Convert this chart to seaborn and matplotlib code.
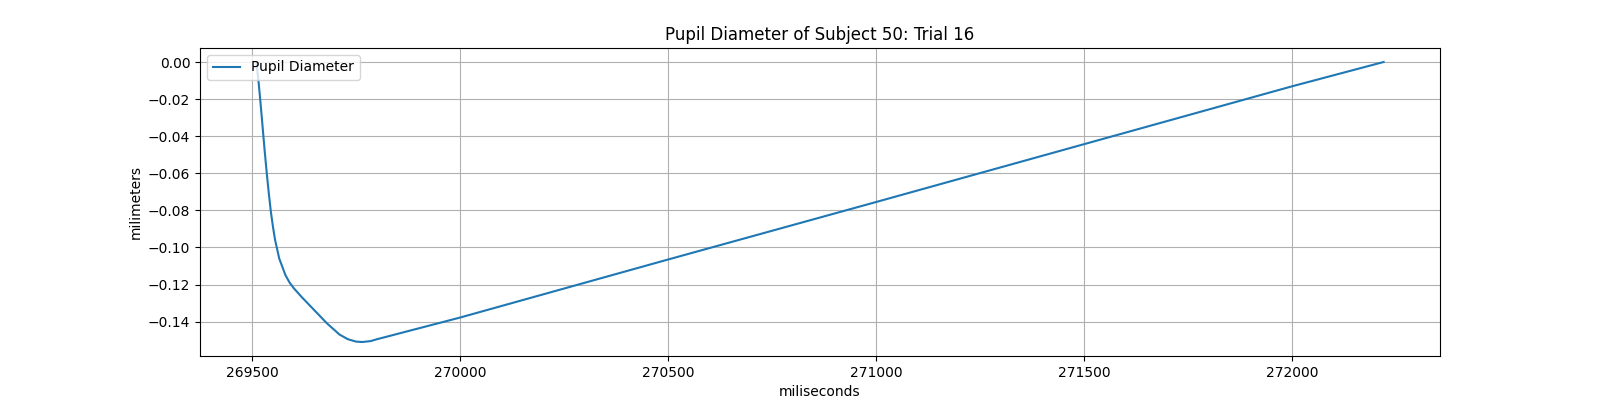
import matplotlib
matplotlib.use('Agg')
import matplotlib.pyplot as plt
import seaborn as sns
import pandas as pd

time_ms = [269510, 269515, 269520, 269525, 269530, 269535, 269540, 269545, 269550, 269555,
           269560, 269565, 269570, 269580, 269590, 269600, 269620, 269650, 269680, 269710,
           269730, 269750, 269765, 269785, 269800,
           270000, 270500, 271000, 271500, 272000, 272220]
diameter_mm = [0.0, -0.010, -0.022, -0.035, -0.048, -0.060, -0.071, -0.081, -0.089, -0.096,
               -0.101, -0.106, -0.109, -0.115, -0.119, -0.122, -0.127, -0.134, -0.141, -0.147,
               -0.1495, -0.1508, -0.151, -0.1505, -0.1495,
               -0.1378, -0.1065, -0.0755, -0.0443, -0.0131, 0.0]

df = pd.DataFrame({'time': time_ms, 'diameter': diameter_mm})

fig, ax = plt.subplots(figsize=(16, 4), dpi=100)
sns.lineplot(data=df, x='time', y='diameter', ax=ax, color='#1f77b4', label='Pupil Diameter')
ax.set_title('Pupil Diameter of Subject 50: Trial 16')
ax.set_xlabel('miliseconds')
ax.set_ylabel('milimeters')
ax.legend(loc='upper left')
ax.grid(True)
fig.savefig('out.png')
